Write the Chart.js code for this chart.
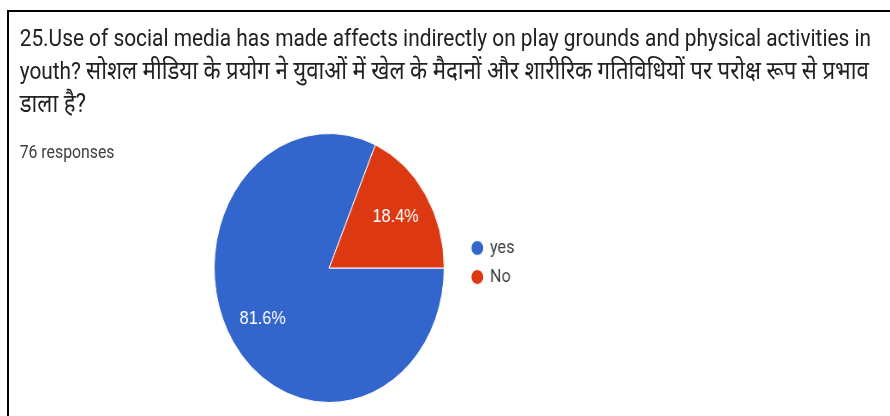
<!DOCTYPE html>
<html lang="en">
<head>
<meta charset="UTF-8">
<title>Q25 responses</title>
<style>
  html, body {
    margin: 0;
    width: 890px;
    height: 416px;
    overflow: hidden;
    background: #fff;
  }
  .frame {
    position: absolute;
    left: 7px;
    top: 10px;
    width: 900px;
    height: 420px;
    border-left: 2px solid #000;
    border-top: 2px solid #000;
  }
  /* whole card is drawn wide, then narrowed */
  #stage {
    position: absolute;
    left: 0;
    top: 0;
    width: 1041px;
    height: 416px;
    transform: scaleX(0.855);
    transform-origin: 0 0;
    font-family: Roboto, "Noto Sans", sans-serif;
  }
  .question {
    position: absolute;
    left: 23px;
    top: 22px;
    font-size: 24.4px;
    line-height: 32px;
    color: #202124;
    white-space: nowrap;
  }
  .question .hi {
    font-size: 26px;
  }
  .count {
    position: absolute;
    left: 23px;
    top: 141px;
    font-size: 18.5px;
    color: #3c4043;
  }
  .chart-box {
    position: absolute;
    left: 227px;
    top: 122px;
    width: 376px;
    height: 281px;
  }
</style>
</head>
<body>

<div class="frame"></div>
<div id="stage">
  <div class="question">25.Use of social media has made affects indirectly on play grounds and physical activities in<br>youth? <span class="hi">सोशल मीडिया के प्रयोग ने युवाओं में खेल के मैदानों और शारीरिक गतिविधियों पर परोक्ष रूप से प्रभाव</span><br><span class="hi">डाला है?</span></div>
  <div class="count" id="count"></div>
  <div class="chart-box"><canvas id="pie"></canvas></div>
</div>

<script src="https://cdn.jsdelivr.net/npm/chart.js"></script>
<script>
  const answers = ['yes', 'No'];
  const counts = [62, 14];
  const colors = ['#3366CC', '#DC3912'];

  const total = counts.reduce((a, b) => a + b, 0);
  document.getElementById('count').textContent = total + ' responses';

  // percentage text inside each slice
  const sliceLabels = {
    id: 'sliceLabels',
    afterDatasetsDraw(chart) {
      const ctx = chart.ctx;
      const meta = chart.getDatasetMeta(0);
      ctx.save();
      ctx.fillStyle = '#fff';
      ctx.font = '19px "Liberation Sans", Arial, sans-serif';
      ctx.textAlign = 'center';
      ctx.textBaseline = 'middle';
      meta.data.forEach((arc, i) => {
        const p = arc.getProps(['x', 'y', 'startAngle', 'endAngle', 'outerRadius'], true);
        const mid = (p.startAngle + p.endAngle) / 2;
        const r = p.outerRadius * 0.69;
        const pct = (counts[i] / total * 100).toFixed(1) + '%';
        ctx.fillText(pct, p.x + Math.cos(mid) * r, p.y + Math.sin(mid) * r);
      });
      ctx.restore();
    }
  };

  new Chart(document.getElementById('pie'), {
    type: 'pie',
    data: {
      labels: answers,
      datasets: [{
        data: counts,
        backgroundColor: colors,
        borderColor: '#fff',
        borderWidth: 1
      }]
    },
    options: {
      responsive: true,
      maintainAspectRatio: false,
      animation: false,
      rotation: 90,
      plugins: {
        tooltip: { enabled: false },
        // empty strip on top so the pie sits a bit lower than the legend
        subtitle: {
          display: true,
          text: ' ',
          position: 'top',
          fullSize: false,
          padding: 0,
          font: { size: 11, lineHeight: 1 }
        },
        legend: {
          position: 'right',
          maxWidth: 60,
          labels: {
            usePointStyle: true,
            boxWidth: 10.5,
            boxHeight: 10.5,
            padding: 10,
            color: '#3c4043',
            font: { family: 'Roboto, sans-serif', size: 19 }
          }
        }
      }
    },
    plugins: [sliceLabels]
  });
</script>

</body>
</html>
